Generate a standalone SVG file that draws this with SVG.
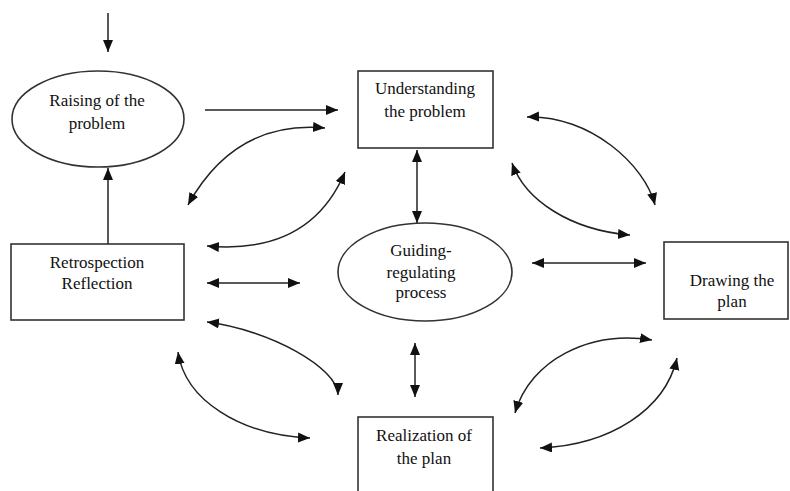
<svg xmlns="http://www.w3.org/2000/svg" width="790" height="491" viewBox="0 0 790 491">
<defs>
<marker id="ah" markerUnits="userSpaceOnUse" markerWidth="14" markerHeight="12" refX="12" refY="5" orient="auto-start-reverse">
<path d="M0,0 L12,5 L0,10 z" fill="#111"/>
</marker>
</defs>
<style>
.n{fill:#fff;stroke:#333;stroke-width:1.6}
text{font-family:'Liberation Serif','Times New Roman','DejaVu Serif',serif;font-size:17px;fill:#111;text-anchor:middle}
.c{fill:none;stroke:#222;stroke-width:1.5}
.s{marker-end:url(#ah)}
.d{marker-start:url(#ah);marker-end:url(#ah)}
</style>
<rect width="790" height="491" fill="#fff"/>
<g id="connectors">
<path class="c s" d="M108,13 L108,52"/>
<path class="c s" d="M108,244 L108,168"/>
<path class="c s" d="M205,110 L338,110"/>
<path class="c d" d="M188,205 Q235,120 325,128"/>
<path class="c d" d="M207,246 Q310,255 345,172"/>
<path class="c d" d="M207,283 L300,283"/>
<path class="c d" d="M207,322 C270,330 338,368 338,395"/>
<path class="c d" d="M178,352 C185,400 240,435 310,438"/>
<path class="c d" d="M417,150 L417,223"/>
<path class="c d" d="M415,343 L415,397"/>
<path class="c d" d="M532,263 L646,263"/>
<path class="c d" d="M527,117 C590,115 645,165 655,205"/>
<path class="c d" d="M512,163 C525,200 570,230 630,235"/>
<path class="c d" d="M652,340 C590,330 530,360 515,413"/>
<path class="c d" d="M677,358 C665,410 610,445 540,448"/>
</g>
<g id="raising">
<ellipse class="n" cx="98" cy="119" rx="86" ry="48"/>
<text font-family="Liberation Serif, serif" x="97" y="106">Raising of the</text>
<text font-family="Liberation Serif, serif" x="97" y="129">problem</text>
</g>
<g id="understanding">
<rect class="n" x="358" y="71" width="135" height="77"/>
<text font-family="Liberation Serif, serif" x="425" y="94">Understanding</text>
<text font-family="Liberation Serif, serif" x="425" y="117">the problem</text>
</g>
<g id="retrospection">
<rect class="n" x="11" y="244" width="173" height="76"/>
<text font-family="Liberation Serif, serif" x="97" y="268">Retrospection</text>
<text font-family="Liberation Serif, serif" x="97" y="289">Reflection</text>
</g>
<g id="guiding">
<ellipse class="n" cx="425" cy="272" rx="87" ry="49"/>
<text font-family="Liberation Serif, serif" x="421" y="256">Guiding-</text>
<text font-family="Liberation Serif, serif" x="421" y="278">regulating</text>
<text font-family="Liberation Serif, serif" x="421" y="298">process</text>
</g>
<g id="drawing">
<rect class="n" x="664" y="242" width="124" height="77"/>
<text font-family="Liberation Serif, serif" x="732" y="286">Drawing the</text>
<text font-family="Liberation Serif, serif" x="732" y="307">plan</text>
</g>
<g id="realization">
<rect class="n" x="358" y="417" width="135" height="80"/>
<text font-family="Liberation Serif, serif" x="424" y="441">Realization of</text>
<text font-family="Liberation Serif, serif" x="424" y="464">the plan</text>
</g>
</svg>
